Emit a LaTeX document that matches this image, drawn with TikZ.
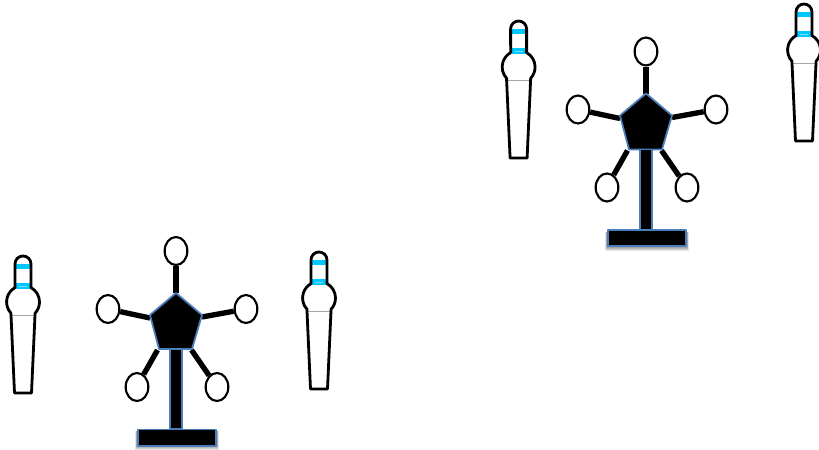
\documentclass[tikz,border=0pt]{standalone}
\usetikzlibrary{shapes.geometric}
\definecolor{edgeblue}{HTML}{4A7EBB}
\definecolor{bandcyan}{HTML}{00C8FF}
\tikzset{
  x=0.75pt,y=-0.75pt,
  joint/.style={ellipse,draw=black,fill=white,line width=1.6pt,inner sep=0pt,minimum width=17pt,minimum height=21pt},
  arm/.style={draw=black,line width=4pt},
  hull/.style={draw=edgeblue,fill=black,line width=1.3pt,line join=round},
  pinline/.style={draw=black,line width=2.1pt,line join=round},
  band/.style={fill=bandcyan,draw=none},
  softshadow/.style={fill=black,draw=none,opacity=0.1},
  pics/robot/.style={code={
    \node[joint] (-h) at (0,-71) {};
    \node[joint] (-l) at (-68,-13) {};
    \node[joint] (-r) at (70,-13) {};
    \node[joint] (-bl) at (-39,65) {};
    \node[joint] (-br) at (41,65) {};
    \coordinate (-p1) at (0,-29);
    \coordinate (-p2) at (26,-7);
    \coordinate (-p3) at (16,27);
    \coordinate (-p4) at (-17,27);
    \coordinate (-p5) at (-26,-7);
    \coordinate (-al) at (-26,-4);
    \coordinate (-ar) at (26,-5);
    \coordinate (-abl) at (-18.5,28);
    \coordinate (-abr) at (15.5,28);
    \draw[arm] (-h) -- (-p1);
    \draw[arm] (-l) -- (-al);
    \draw[arm] (-r) -- (-ar);
    \draw[arm] (-bl.62) -- (-abl);
    \draw[arm] (-br) -- (-abr);
    \path[hull] (-p1) -- (-p2) -- (-p3) -- (-p4) -- (-p5) -- cycle;
    \path[hull] (-5.7,27) rectangle (6,107);
    \foreach \g in {5,4,3,2,1}{
      \fill[softshadow] (-39-\g/3,109) rectangle (41+\g/3,123+\g);
    }
    \node[hull,rectangle,inner sep=0pt,minimum width=58.5pt,minimum height=12.2pt] (-base) at (1,115.5) {};
  }},
  pics/bowlpin/.style={code={
    \fill[white] (-12,57.3) arc[start angle=137,end angle=241,radius=16.5]
      -- (-8,8) arc[start angle=180,end angle=360,radius=8]
      -- (8,31.6) arc[start angle=-61,end angle=43,radius=16.5]
      -- (12,59) -- (8.5,137) -- (-8.5,137) -- (-12,59) -- cycle;
    \fill[band] (-7,8) rectangle (7,12.5);
    \fill[band] (-7,27) rectangle (7,33);
    \draw[white,opacity=0.45,line width=0.6pt] (-4,30.2) -- (4,30.2);
    \draw[gray!70,line width=0.5pt] (-11,59) -- (11,59);
    \draw[pinline] (-12,57.3) arc[start angle=137,end angle=241,radius=16.5]
      -- (-8,8) arc[start angle=180,end angle=360,radius=8]
      -- (8,31.6) arc[start angle=-61,end angle=43,radius=16.5]
      -- (12,59) -- (8.5,137) -- (-8.5,137) -- (-12,59) -- cycle;
  }}
}
\begin{document}
\begin{tikzpicture}
\useasboundingbox (0,0) rectangle (819,450);
\pic (robotA) at (176,322) {robot};
\pic (robotB) at (646,122.5) {robot};
\pic (pinA) at (23,256) {bowlpin};
\pic (pinB) at (319,252) {bowlpin};
\pic (pinC) at (518.6,21) {bowlpin};
\pic (pinD) at (804,4) {bowlpin};
\end{tikzpicture}
\end{document}
